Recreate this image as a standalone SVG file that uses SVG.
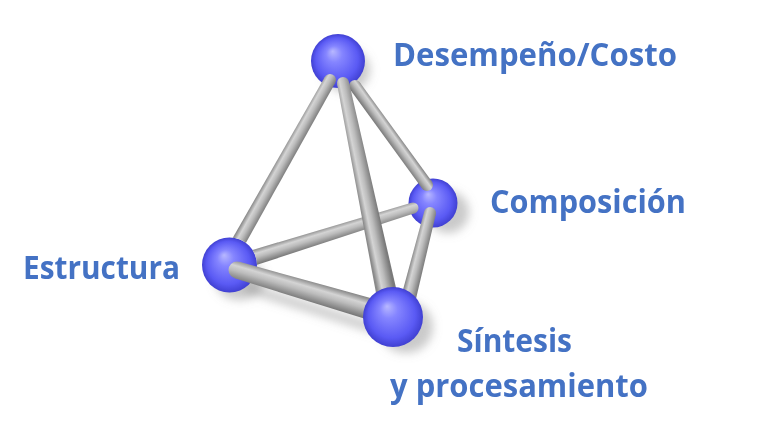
<svg xmlns="http://www.w3.org/2000/svg" width="775" height="429" viewBox="0 0 775 429">
<style>
.lbl{font-family:"Open Sans","Noto Sans","Liberation Sans",sans-serif;font-weight:bold;font-size:33px;fill:#4472C4}
.shadow{fill:#8a8a8a;opacity:0.45}
</style>
<defs>
<radialGradient id="ball" cx="0.5" cy="0.5" r="0.5" fx="0.4" fy="0.32">
<stop offset="0" stop-color="#b8b8ff"/>
<stop offset="0.3" stop-color="#8585ff"/>
<stop offset="0.78" stop-color="#5a5af4"/>
<stop offset="1" stop-color="#4040d2"/>
</radialGradient>
<filter id="blur" x="-50%" y="-50%" width="200%" height="200%"><feGaussianBlur stdDeviation="5"/></filter>
<linearGradient id="r1" gradientUnits="userSpaceOnUse" x1="276.4" y1="160.6" x2="288.6" y2="167.4"><stop offset="0" stop-color="#8a8a8a"/><stop offset="0.3" stop-color="#d4d4d4"/><stop offset="0.55" stop-color="#bcbcbc"/><stop offset="1" stop-color="#7a7a7a"/></linearGradient>
<linearGradient id="r2" gradientUnits="userSpaceOnUse" x1="357.2" y1="193.2" x2="373.8" y2="189.8"><stop offset="0" stop-color="#8a8a8a"/><stop offset="0.3" stop-color="#d4d4d4"/><stop offset="0.55" stop-color="#bcbcbc"/><stop offset="1" stop-color="#7a7a7a"/></linearGradient>
<linearGradient id="r3" gradientUnits="userSpaceOnUse" x1="395.9" y1="132" x2="386.1" y2="139"><stop offset="0" stop-color="#8a8a8a"/><stop offset="0.3" stop-color="#d4d4d4"/><stop offset="0.55" stop-color="#bcbcbc"/><stop offset="1" stop-color="#7a7a7a"/></linearGradient>
<linearGradient id="r4" gradientUnits="userSpaceOnUse" x1="324.3" y1="227.8" x2="328.7" y2="242.2"><stop offset="0" stop-color="#8a8a8a"/><stop offset="0.3" stop-color="#d4d4d4"/><stop offset="0.55" stop-color="#bcbcbc"/><stop offset="1" stop-color="#7a7a7a"/></linearGradient>
<linearGradient id="r5" gradientUnits="userSpaceOnUse" x1="311.3" y1="281.4" x2="305.7" y2="300.6"><stop offset="0" stop-color="#8a8a8a"/><stop offset="0.3" stop-color="#d4d4d4"/><stop offset="0.55" stop-color="#bcbcbc"/><stop offset="1" stop-color="#7a7a7a"/></linearGradient>
<linearGradient id="r6" gradientUnits="userSpaceOnUse" x1="412.2" y1="254.8" x2="425.8" y2="258.2"><stop offset="0" stop-color="#8a8a8a"/><stop offset="0.3" stop-color="#d4d4d4"/><stop offset="0.55" stop-color="#bcbcbc"/><stop offset="1" stop-color="#7a7a7a"/></linearGradient>
<clipPath id="behindLeft"><path clip-rule="evenodd" d="M0 0H775V429H0Z M202 265a27.5 27.5 0 1 0 55 0a27.5 27.5 0 1 0 -55 0Z"/></clipPath>
</defs>
<rect width="775" height="429" fill="#ffffff"/>
<g id="shadows" filter="url(#blur)">
<ellipse class="shadow" cx="346" cy="70" rx="24" ry="22"/>
<ellipse class="shadow" cx="448" cy="212" rx="21" ry="21"/>
<ellipse class="shadow" cx="240" cy="280" rx="25" ry="20"/>
<ellipse class="shadow" cx="406" cy="327" rx="27" ry="26"/>
<path class="shadow" d="M245 282 L380 325 L380 335 L245 292Z"/>
</g>
<g id="node-desempeno">
<circle cx="338" cy="61" r="27" fill="url(#ball)"/>
<text class="lbl" x="393" y="66" textLength="284" lengthAdjust="spacingAndGlyphs">Desempeño/Costo</text>
</g>
<g id="node-composicion">
<circle cx="433" cy="203" r="24.5" fill="url(#ball)"/>
<text class="lbl" x="490" y="213" textLength="196" lengthAdjust="spacingAndGlyphs">Composición</text>
</g>
<g id="node-estructura">
<circle cx="229.5" cy="265" r="27.5" fill="url(#ball)"/>
<text class="lbl" x="23" y="279" textLength="157" lengthAdjust="spacingAndGlyphs">Estructura</text>
</g>
<g id="connectors">
<g clip-path="url(#behindLeft)">
<polygon fill="url(#r1)" points="324.8,77.0 335.2,83.0 241.1,251.4 228.9,244.6"/>
<circle cx="330" cy="80" r="6" fill="url(#r1)"/>
<polygon fill="url(#r4)" points="237.6,254.4 411.4,202.7 414.6,213.3 242.4,269.6"/>
<circle cx="413" cy="208" r="5.5" fill="url(#r4)"/>
</g>
<polygon fill="url(#r3)" points="359.9,82.5 431.9,181.5 422.1,188.5 350.1,89.5"/>
<circle cx="355" cy="86" r="6" fill="url(#r3)"/>
<circle cx="427" cy="185" r="6" fill="url(#r3)"/>
<polygon fill="url(#r6)" points="424.2,211.5 435.8,214.5 415.3,301.8 400.7,298.2"/>
<circle cx="430" cy="213" r="6" fill="url(#r6)"/>
<polygon fill="url(#r2)" points="337.1,84.2 348.9,81.8 398.3,297.9 377.7,302.1"/>
<circle cx="343" cy="83" r="6" fill="url(#r2)"/>
<polygon fill="url(#r5)" points="239.4,261.8 383.1,301.4 376.9,322.6 234.6,278.2"/>
<circle cx="237" cy="270" r="8.5" fill="url(#r5)"/>
</g>
<g id="node-sintesis">
<circle cx="393" cy="317" r="30" fill="url(#ball)"/>
<text class="lbl" x="457" y="352" textLength="115" lengthAdjust="spacingAndGlyphs">Síntesis</text>
<text class="lbl" x="390" y="397" textLength="258" lengthAdjust="spacingAndGlyphs">y procesamiento</text>
</g>
</svg>
